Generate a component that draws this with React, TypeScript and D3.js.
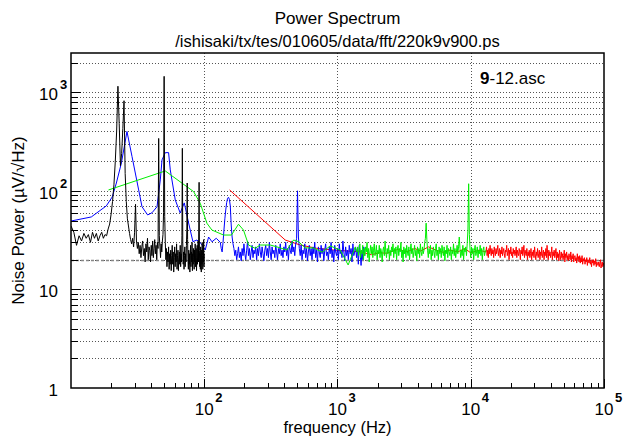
import React from "react";
import * as d3 from "d3";

const WIDTH = 632;
const HEIGHT = 438;

const TITLE = "Power Spectrum";
const SUBTITLE = "/ishisaki/tx/tes/010605/data/fft/220k9v900.ps";
const X_LABEL = "frequency (Hz)";
const Y_LABEL = "Noise Power (\u00b5V/\u221aHz)";
const FILE_LABEL_BOLD = "9";
const FILE_LABEL_REST = "-12.asc";

const X_DOMAIN = [10, 1e5];
const Y_DOMAIN = [1, 2500];
const xTickExponents = [2, 3, 4, 5];
const yTickValues = [1, 10, 100, 1000];
const yTickBases = ["1", "10", "10", "10"];
const yTickExps = ["", "", "2", "3"];
const noiseLevel = 20;

// black: 10..100 Hz, 0.5 Hz bins
const blackStartHz = 10;
const blackStepHz = 0.5;
const blackPower = [
  44, 38, 28, 35, 31, 37, 33, 36, 30, 38,
  33, 37, 31, 35, 38, 33, 36, 35, 41, 46,
  58, 78, 115, 200, 400, 1150, 480, 180, 240, 430,
  820, 150, 78, 52, 44, 37, 32, 29, 33, 27,
  38, 73, 31, 26, 30, 23, 28, 21, 27, 31,
  22, 26, 19, 29, 24, 33, 20, 27, 25, 19,
  28, 22, 31, 21, 26, 32, 23, 28, 20, 30,
  26, 340, 35, 27, 21, 29, 24, 31, 36, 60,
  1450, 55, 30, 20, 26, 17, 24, 19, 27, 16,
  23, 18, 25, 15.5, 22, 28, 18, 24, 15, 21,
  27, 17, 23, 19, 29, 16, 22, 25, 15.5, 21,
  24, 18, 28, 17, 23, 19, 35, 270, 30, 18,
  24, 16, 22, 27, 17, 23, 19, 28, 40, 120,
  32, 20, 16, 25, 18, 23, 15, 22, 28, 17,
  24, 19, 30, 15.5, 23, 18, 26, 21, 16, 25,
  19, 29, 17, 22, 26, 15.5, 21, 28, 18, 23,
  31, 19, 45, 122, 25, 17, 23, 16, 27, 20,
  15, 25, 18, 30, 22, 16, 26, 19, 32, 17,
  23,
];

// blue: sparse low-frequency part
const blueLowHz = [
  10, 14.2, 18.4, 20.4, 21.9, 23.9, 26.3, 28.7, 32.2, 34.1,
  37.6, 40.6, 44.2, 46.8, 48.2, 51.0, 54.0, 55.6, 60.6, 66.0,
  70.8, 76.3, 82.2, 88.1, 95, 101.7, 107.8, 114.3, 123.1,
];
const blueLowPower = [
  49.4, 54.3, 70.3, 86.7, 120, 192, 400, 223, 102, 69,
  56.9, 60, 69, 129, 206, 244, 244, 163, 80.8, 59.6,
  75.4, 47.2, 30.5, 31.7, 29, 25.1, 34, 30.4, 33,
];
// blue: dense part 132..1600 Hz
const blueDenseStartHz = 132;
const blueDenseEndHz = 1600;
const blueDensePower = [
  30, 26, 24, 30, 40, 52, 64, 76, 84, 86,
  82, 70, 45, 34, 29, 26, 22, 25, 20, 23,
  27, 21, 24, 19.5, 26, 22, 29, 23, 20, 25,
  31, 22, 26, 20, 24, 28, 21, 25, 23, 27,
  20, 26, 22, 29, 24, 21, 27, 23, 19.5, 25,
  28, 22, 26, 21, 30, 24, 20, 27, 23, 25,
  21, 28, 24, 20, 26, 23, 29, 22, 25, 21,
  27, 24, 30, 22, 26, 20, 28, 25, 23, 31,
  24, 27, 22, 29, 33, 100, 34, 26, 22, 28,
  20, 25, 23, 29, 21, 26, 19.5, 24, 28, 22,
  26, 20, 27, 23, 30, 21, 25, 19, 27, 24,
  21, 28, 23, 26, 19.5, 25, 29, 22, 24, 20,
  27, 23, 30, 21, 25, 19, 28, 24, 22, 26,
  20, 29, 23, 25, 21, 31, 24, 19.5, 27, 22,
  25, 20, 28, 23, 26, 19, 29, 22, 24, 27,
  21, 26, 18, 28, 23, 17.5, 25, 20, 27, 22,
];

// green: sparse part
const greenLowHz = [
  19.1, 51.0, 83.2, 93.3, 104.7, 114.2, 139.6, 160, 180.7, 197,
  215, 241, 263, 313, 351, 417, 468, 510, 572, 657,
  768, 881, 1047, 1202, 1358,
];
const greenLowPower = [
  102, 159, 98.2, 74.8, 46.9, 40, 35.6, 35.6, 45.8, 40,
  28.2, 26.1, 28.2, 28.2, 27, 25.1, 31.7, 30.5, 26.4, 26.4,
  23.9, 27.6, 25.1, 17.7, 26.9,
];
// green: dense part 1400..13000 Hz
const greenDenseStartHz = 1400;
const greenDenseEndHz = 13000;
const greenDensePower = [
  24, 27, 22, 26, 29, 21, 25, 23, 28, 20,
  26, 22, 27, 24, 30, 21, 26, 19, 24, 28,
  23, 27, 21, 25, 29, 22, 24, 28, 20, 25,
  23, 28, 21, 26, 24, 19, 25, 27, 22, 31,
  24, 21, 26, 23, 28, 20, 25, 22, 27, 24,
  29, 21, 26, 23, 27, 20, 25, 28, 22, 26,
  24, 30, 21, 25, 19, 27, 23, 26, 21, 28,
  24, 22, 27, 20, 25, 29, 23, 26, 21, 24,
  28, 22, 25, 19.5, 27, 23, 26, 21, 29, 24,
  22, 27, 23, 25, 30, 33, 47, 32, 25, 21,
  26, 23, 28, 20, 25, 22, 27, 24, 21, 26,
  29, 22, 25, 20, 27, 23, 26, 21, 28, 24,
  22, 27, 19.5, 25, 23, 28, 21, 26, 24, 22,
  27, 20, 25, 23, 29, 22, 26, 21, 24, 28,
  23, 27, 34, 26, 21, 25, 22, 28, 20, 26,
  24, 27, 22, 29, 40, 118, 36, 25, 21, 27,
  23, 26, 20, 25, 28, 22, 24, 27, 21, 25,
  23, 28, 22, 26, 20, 25, 27, 22, 24, 25,
];

// red: sparse part
const redLowHz = [
  155, 405, 525, 700, 933, 1200, 1480, 1800, 2050, 2350,
  2600, 2870, 3320, 3800, 4200, 4820, 5500, 6200, 7010, 8000,
  9000, 10000, 11500, 13000,
];
const redLowPower = [
  102, 31.7, 28.2, 26.1, 25.1, 24.5, 24.1, 22.5, 23.5, 23.3,
  24.5, 25.5, 24.1, 26, 24.5, 27, 25, 23.8, 25.1, 24,
  26, 23.5, 25, 24,
];
// red: dense part 13000..100000 Hz
const redDenseStartHz = 13000;
const redDenseEndHz = 100000;
const redDensePower = [
  24, 27, 22, 25, 21, 26, 23, 28, 24, 22,
  26, 23, 25, 21, 27, 24, 22, 26, 23, 25,
  28, 22, 24, 26, 21, 25, 23, 27, 22, 24,
  26, 23, 21, 25, 24, 28, 22, 24, 26, 20,
  25, 23, 27, 22, 24, 21, 26, 23, 25, 22,
  24, 27, 21, 25, 23, 22, 26, 24, 20, 25,
  23, 27, 22, 24, 28, 21, 25, 23, 22, 26,
  20, 24, 22, 25, 21, 23, 26, 20, 24, 22,
  25, 21, 27, 23, 20, 24, 22, 26, 21, 23,
  25, 20, 24, 22, 27, 21, 23, 25, 20, 24,
  22, 26, 21, 28, 23, 20, 25, 22, 24, 21,
  23, 27, 20, 24, 22, 25, 21, 23, 26, 20,
  24, 21, 23, 19.5, 25, 22, 20, 24, 21, 23,
  20, 22, 25, 19, 23, 21, 24, 20, 22, 19.5,
  23, 21, 20, 24, 19, 22, 20.5, 23, 19, 21,
  22, 19.5, 21, 18.5, 23, 20, 21.5, 19, 22, 18.5,
  21, 19, 22, 18, 20.5, 19.5, 21, 18, 20, 19,
  21, 17.5, 20, 19, 18.5, 21, 18, 19.5, 17, 20,
  18.5, 20, 17.5, 19.5, 18, 20.5, 17, 19, 18, 17.5,
  19, 17, 18.5, 20, 16.5, 18, 19, 17, 18.5, 17.5,
];

const seriesColors = { black: "#000000", blue: "#0000ff", green: "#00ee00", red: "#ff0000" };

type Pt = [number, number];

function linearBins(start: number, step: number, values: number[]): Pt[] {
  return values.map((v, i) => [start + step * i, v]);
}
function logBins(start: number, end: number, values: number[]): Pt[] {
  const n = values.length;
  const l0 = Math.log10(start);
  const l1 = Math.log10(end);
  return values.map((v, i) => [Math.pow(10, l0 + ((l1 - l0) * i) / (n - 1)), v]);
}
function pairs(f: number[], v: number[]): Pt[] {
  return f.map((fi, i) => [fi, v[i]]);
}

const FONT = "'Liberation Sans', Arial, Helvetica, sans-serif";

export default function App() {
  const left = 71;
  const right = 604;
  const top = 53;
  const bottom = 388;

  const x = d3.scaleLog().domain(X_DOMAIN).range([left, right]);
  const y = d3.scaleLog().domain(Y_DOMAIN).range([bottom, top]);
  const line = d3
    .line<Pt>()
    .x((d) => x(d[0]))
    .y((d) => y(d[1]));

  const redData = [...pairs(redLowHz, redLowPower), ...logBins(redDenseStartHz, redDenseEndHz, redDensePower).slice(1)];
  const greenData = [...pairs(greenLowHz, greenLowPower), ...logBins(greenDenseStartHz, greenDenseEndHz, greenDensePower)];
  const blueData = [...pairs(blueLowHz, blueLowPower), ...logBins(blueDenseStartHz, blueDenseEndHz, blueDensePower)];
  const blackData = linearBins(blackStartHz, blackStepHz, blackPower);

  const yGrid: number[] = [];
  for (let e = 0; e <= 3; e++) {
    for (let m = 1; m <= 9; m++) {
      const v = m * Math.pow(10, e);
      if (v > 1 && v <= Y_DOMAIN[1]) yGrid.push(v);
    }
  }
  const xMinor: number[] = [];
  for (let e = 1; e <= 4; e++) {
    for (let m = 2; m <= 9; m++) xMinor.push(m * Math.pow(10, e));
  }
  const xMajor = xTickExponents.map((e) => Math.pow(10, e));
  const xGrid = xMajor.filter((v) => v < X_DOMAIN[1]);
  const yMajor = yTickValues;

  const snap = (v: number) => Math.round(v) + 0.5;

  return (
    <svg
      width={WIDTH}
      height={HEIGHT}
      style={{ position: "absolute", left: 0, top: 0, background: "#fff" }}
      fontFamily={FONT}
    >
      <rect x={0} y={0} width={WIDTH} height={HEIGHT} fill="#fff" />
      <defs>
        <clipPath id="plotClip">
          <rect x={left} y={top} width={right - left} height={bottom - top} />
        </clipPath>
      </defs>

      {/* grid */}
      <g stroke="#555" strokeWidth={1} strokeDasharray="1,2" fill="none">
        {yGrid.map((v) => (
          <line key={"gy" + v} x1={left} x2={right} y1={snap(y(v))} y2={snap(y(v))} />
        ))}
        {xGrid.map((v) => (
          <line key={"gx" + v} x1={snap(x(v))} x2={snap(x(v))} y1={top} y2={bottom} />
        ))}
      </g>
      <line
        x1={left}
        x2={right}
        y1={snap(y(noiseLevel))}
        y2={snap(y(noiseLevel))}
        stroke="#888"
        strokeWidth={1.5}
        strokeDasharray="3,2"
      />

      {/* series */}
      <g clipPath="url(#plotClip)" fill="none" strokeWidth={1} strokeLinejoin="round">
        <path d={line(redData) || ""} stroke={seriesColors.red} />
        <path d={line(blueData) || ""} stroke={seriesColors.blue} />
        <path d={line(greenData) || ""} stroke={seriesColors.green} />
        <path d={line(blackData) || ""} stroke={seriesColors.black} />
      </g>

      {/* ticks */}
      <g stroke="#000" strokeWidth={1}>
        {yGrid.map((v) => {
          const len = yMajor.includes(v) ? 10 : 7;
          return <line key={"ty" + v} x1={left} x2={left + len} y1={snap(y(v))} y2={snap(y(v))} />;
        })}
        {xMinor.map((v) => (
          <line key={"tx" + v} x1={snap(x(v))} x2={snap(x(v))} y1={bottom} y2={bottom - 5} />
        ))}
        {xMajor.map((v) => (
          <line key={"tX" + v} x1={snap(x(v))} x2={snap(x(v))} y1={bottom} y2={bottom - 9} />
        ))}
      </g>

      {/* frame */}
      <rect x={left} y={top} width={right - left} height={bottom - top} fill="none" stroke="#000" strokeWidth={1.5} />

      {/* titles */}
      <text x={(left + right) / 2} y={24} textAnchor="middle" fontSize={17}>
        {TITLE}
      </text>
      <text x={(left + right) / 2} y={47} textAnchor="middle" fontSize={16.5}>
        {SUBTITLE}
      </text>

      {/* x tick labels */}
      {xTickExponents.map((e) => {
        const px = x(Math.pow(10, e));
        return (
          <g key={"xl" + e}>
            <text x={px} y={415} textAnchor="middle" fontSize={17}>
              10
            </text>
            <text x={px + 11} y={402} fontSize={13} fontWeight="bold">
              {e}
            </text>
          </g>
        );
      })}
      <text x={(left + right) / 2} y={433} textAnchor="middle" fontSize={16.5}>
        {X_LABEL}
      </text>

      {/* y tick labels */}
      {yTickValues.map((v, i) => {
        const py = y(v);
        return (
          <g key={"yl" + v}>
            <text x={58} y={py + 8} textAnchor="end" fontSize={17}>
              {yTickBases[i]}
            </text>
            {yTickExps[i] && (
              <text x={60} y={py - 3} fontSize={13} fontWeight="bold">
                {yTickExps[i]}
              </text>
            )}
          </g>
        );
      })}
      <text
        transform={`translate(24, ${(top + bottom) / 2}) rotate(-90)`}
        textAnchor="middle"
        fontSize={17}
      >
        {Y_LABEL}
      </text>

      {/* file label */}
      <text x={480} y={84} fontSize={17}>
        <tspan fontWeight="bold">{FILE_LABEL_BOLD}</tspan>
        {FILE_LABEL_REST}
      </text>
    </svg>
  );
}
